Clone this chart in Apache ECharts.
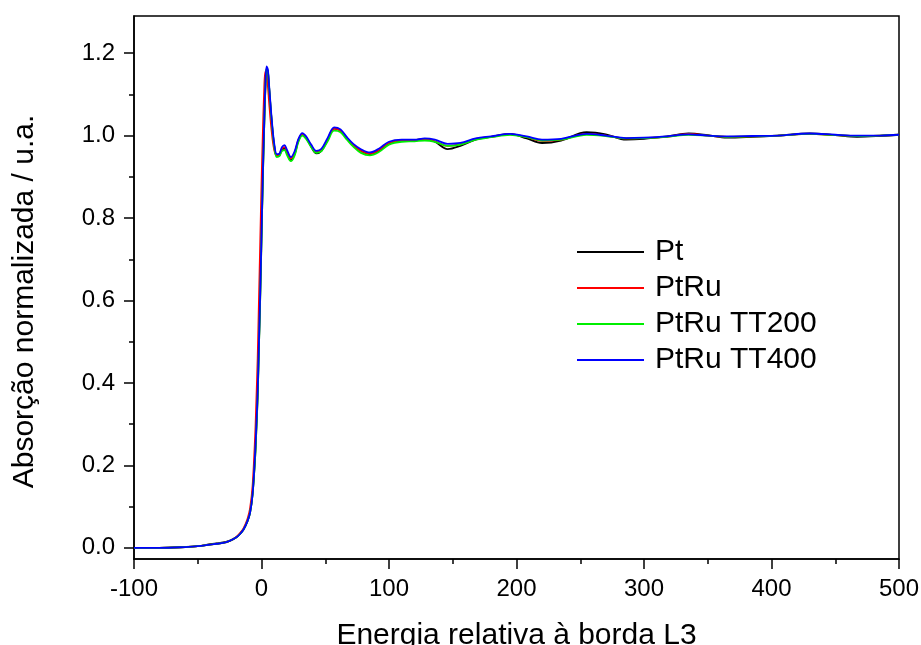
<!DOCTYPE html>
<html>
<head>
<meta charset="utf-8">
<script src="https://cdn.jsdelivr.net/npm/echarts@6/dist/echarts.min.js"></script>
<style>
html,body{margin:0;padding:0;background:#fff;}
#chart{width:921px;height:645px;}
</style>
</head>
<body>
<div id="chart"></div>
<script>
const seriesNames = ['Pt', 'PtRu', 'PtRu TT200', 'PtRu TT400'];
const seriesColors = ['#000000', '#ff0000', '#00ee00', '#0000ff'];
const energy = [-100,-80,-60,-50,-40,-35,-30,-25,-20,-17,-14,-11,-9,-7,-5,-4,-3,-2,-1,0,1,2,3,4,5,6,8,10,12,14,16,18,20,23,26,29,32,35,39,43,47,52,57,62,67,72,78,85,92,100,110,120,128,136,146,156,168,180,195,208,220,235,255,270,286,300,318,335,350,365,385,405,430,450,467,485,500];

const valuesPt = [0,0,0.002,0.004,0.009,0.011,0.013,0.017,0.025,0.033,0.045,0.065,0.085,0.13,0.22,0.29,0.37,0.49,0.61,0.75,0.89,1.01,1.11,1.163,1.155,1.115,1.035,0.975,0.95,0.952,0.965,0.968,0.957,0.94,0.955,0.988,1.003,0.995,0.973,0.957,0.963,0.99,1.017,1.012,0.993,0.976,0.963,0.955,0.963,0.98,0.988,0.989,0.992,0.985,0.967,0.975,0.99,0.997,1.004,0.993,0.982,0.988,1.008,1.003,0.99,0.992,0.998,1.005,1.001,0.995,0.997,1.0,1.005,1.001,0.997,0.999,1.002];
const valuesPtRu = [0,0,0.002,0.004,0.008,0.01,0.012,0.017,0.026,0.035,0.048,0.07,0.095,0.15,0.27,0.36,0.46,0.6,0.74,0.88,1.0,1.1,1.155,1.15,1.12,1.08,1.01,0.965,0.952,0.955,0.968,0.972,0.96,0.945,0.958,0.99,1.003,0.995,0.975,0.96,0.965,0.992,1.017,1.012,0.993,0.977,0.963,0.956,0.965,0.982,0.988,0.988,0.991,0.986,0.975,0.979,0.992,0.997,1.003,0.996,0.987,0.99,1.004,1.0,0.993,0.994,0.997,1.004,1.0,0.997,0.998,1.0,1.004,1.001,0.999,1.0,1.002];
const valuesTT200 = [0,0,0.002,0.004,0.008,0.01,0.012,0.017,0.025,0.033,0.045,0.065,0.085,0.13,0.22,0.29,0.37,0.49,0.61,0.75,0.89,1.01,1.11,1.163,1.155,1.115,1.035,0.973,0.948,0.95,0.962,0.965,0.953,0.938,0.952,0.985,1.0,0.992,0.972,0.958,0.962,0.987,1.012,1.008,0.99,0.973,0.958,0.952,0.96,0.978,0.985,0.986,0.988,0.985,0.975,0.978,0.99,0.996,1.002,0.996,0.988,0.99,1.002,0.999,0.993,0.994,0.997,1.002,1.0,0.997,0.998,1.0,1.004,1.001,0.999,1.0,1.002];
const valuesTT400 = [0,0,0.002,0.004,0.008,0.01,0.012,0.017,0.025,0.033,0.045,0.065,0.085,0.13,0.23,0.3,0.38,0.5,0.62,0.76,0.9,1.02,1.12,1.168,1.16,1.12,1.04,0.98,0.955,0.956,0.972,0.977,0.965,0.948,0.962,0.992,1.006,0.998,0.978,0.963,0.968,0.995,1.02,1.015,0.996,0.98,0.967,0.959,0.968,0.985,0.99,0.99,0.993,0.99,0.98,0.982,0.993,0.998,1.004,0.998,0.99,0.992,1.004,1.0,0.994,0.995,0.998,1.003,1.0,0.998,0.999,1.0,1.005,1.002,1.0,1.0,1.002];

const yMajorTicks = [0, 0.2, 0.4, 0.6, 0.8, 1.0, 1.2];
const yMinorTicks = [0.1, 0.3, 0.5, 0.7, 0.9, 1.1];

const allValues = [valuesPt, valuesPtRu, valuesTT200, valuesTT400];
const font = '"Liberation Sans", Arial, sans-serif';

const chart = echarts.init(document.getElementById('chart'), null, {renderer: 'canvas'});
const series = seriesNames.map((name, i) => ({
  name: name,
  type: 'line',
  data: energy.map((e, j) => [e, allValues[i][j]]),
  showSymbol: false,
  smooth: 0.35,
  lineStyle: {color: seriesColors[i], width: 1.8},
  itemStyle: {color: seriesColors[i]},
  z: 2 + i,
  animation: false
}));

const option = {
  animation: false,
  backgroundColor: '#fff',
  grid: {left: 134, right: 22, top: 16, bottom: 86, show: true, borderColor: '#000', borderWidth: 1.5,
    outerBoundsMode: 'none', containLabel: false},
  legend: {
    orient: 'vertical',
    left: 577, top: 237,
    padding: 0,
    itemWidth: 67, itemHeight: 2, itemGap: 6,
    icon: 'rect',
    textStyle: {fontFamily: font, fontSize: 30, color: '#000', lineHeight: 30, padding: [0, 0, 0, 6]},
    data: seriesNames
  },
  xAxis: {
    type: 'value', min: -100, max: 500, interval: 100,
    name: 'Energia relativa à borda L3', nameLocation: 'middle', nameGap: 62,
    nameTextStyle: {fontFamily: font, fontSize: 30, color: '#000'},
    axisLine: {onZero: false, lineStyle: {color: '#000', width: 1.5}},
    axisTick: {length: 10, lineStyle: {color: '#000', width: 1.5}},
    minorTick: {show: true, splitNumber: 2, length: 5, lineStyle: {color: '#000', width: 1.5}},
    axisLabel: {fontFamily: font, fontSize: 24, color: '#000', margin: 18},
    splitLine: {show: false}
  },
  yAxis: [{
    type: 'value', min: -0.027, max: 1.29,
    name: 'Absorção normalizada / u.a.', nameLocation: 'middle', nameGap: 94,
    nameTextStyle: {fontFamily: font, fontSize: 30, color: '#000', padding: [0, 28, 0, 0]},
    axisLine: {onZero: false, lineStyle: {color: '#000', width: 1.5}},
    axisTick: {length: 10, customValues: yMajorTicks, lineStyle: {color: '#000', width: 1.5}},
    axisLabel: {fontFamily: font, fontSize: 24, color: '#000', margin: 19, customValues: yMajorTicks,
      formatter: v => v.toFixed(1)},
    splitLine: {show: false}
  }, {
    type: 'value', min: -0.027, max: 1.29, position: 'left',
    axisLine: {show: false, onZero: false},
    axisTick: {length: 5, customValues: yMinorTicks, lineStyle: {color: '#000', width: 1.5}},
    axisLabel: {show: false},
    splitLine: {show: false}
  }],
  series: series
};
chart.setOption(option);
</script>
</body>
</html>
